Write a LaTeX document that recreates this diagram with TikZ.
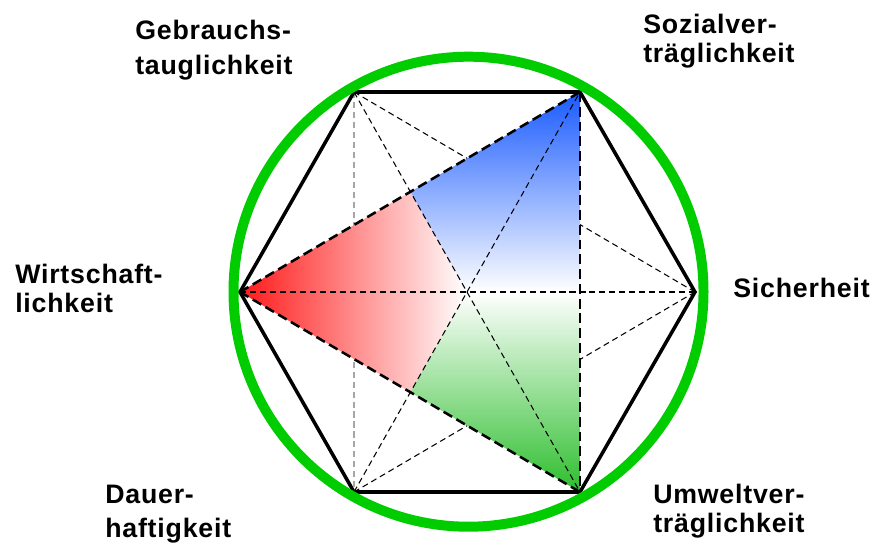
\documentclass[tikz,border=0pt]{standalone}
\usepackage{fontspec}
\setmainfont{Liberation Sans}
\newfontfamily\lblfont{Liberation Sans}[LetterSpace=3]
\usepackage{tikz}
\usetikzlibrary{calc}
\definecolor{ringgreen}{RGB}{0,204,0}
\definecolor{vecred}{RGB}{255,25,25}
\definecolor{vecblue}{RGB}{25,90,255}
\definecolor{vecgreen}{RGB}{45,190,45}

\begin{document}
\begin{tikzpicture}[
  x=0.025cm, y=-0.025cm,
  hexedge/.style={line width=2.5pt, line join=miter},
  diag/.style={line width=0.75pt, dash pattern=on 4.3pt off 2.8pt},
  tri/.style={line width=1.8pt, dash pattern=on 7pt off 3.5pt},
  lbl/.style={anchor=north west, inner sep=0pt, align=left,
    font=\lblfont\bfseries\fontsize{19}{#1}\selectfont},
  lbl/.default=20.6pt
]
  \useasboundingbox (0,0) rectangle (879,545);

  % Corners of the hexagon
  \coordinate (Gt) at (354,92);
  \coordinate (St) at (580,92);
  \coordinate (Si) at (695,292);
  \coordinate (Ut) at (580,492);
  \coordinate (Dt) at (354,492);
  \coordinate (Wt) at (240,292);

  % Inner points
  \coordinate (O) at (intersection of Wt--Si and Gt--Ut);
  \coordinate (P) at (intersection of Wt--St and Gt--Ut);
  \coordinate (Q) at (intersection of Wt--Ut and Dt--St);
  \coordinate (Om) at (O -| St);

  % Short diagonals (behind the fill)
  \draw[diag] (Gt) -- (Si);
  \draw[diag] (Dt) -- (Si);
  \draw[diag, gray!70] (Gt) -- (Dt);

  % Shaded triangle
  \shade[left color=vecred, right color=white] (Wt) -- (P) -- (O) -- (Q) -- cycle;
  \shade[top color=vecblue, bottom color=white] (P) -- (St) -- (Om) -- (O) -- cycle;
  \shade[top color=white, bottom color=vecgreen] (Q) -- (O) -- (Om) -- (Ut) -- cycle;

  % Long diagonals
  \draw[diag] (Wt) -- (Si);
  \draw[diag] (Gt) -- (Ut);
  \draw[diag] (Dt) -- (St);

  % Triangle edges
  \draw[tri] (Wt) -- (St);
  \draw[tri] (Wt) -- (Ut);
  \draw[tri] (St) -- (Ut);

  % Hexagon and ring
  \draw[hexedge] (Gt) -- (St) -- (Si) -- (Ut) -- (Dt) -- (Wt) -- cycle;
  \draw[ringgreen, line width=7.1pt] (468.5,291.7) circle[radius=235];

  % Labels
  \node[lbl=24.9pt] (gebr) at (135,19.6) {Gebrauchs-\\tauglichkeit};
  \node[lbl] (sozi) at (643,14.3) {Sozialver-\\träglichkeit};
  \node[lbl] (wirt) at (15,263.6) {Wirtschaft-\\lichkeit};
  \node[lbl] (sich) at (733,278.3) {Sicherheit};
  \node[lbl=24.2pt] (daue) at (105,484.6) {Dauer-\\haftigkeit};
  \node[lbl] (umwe) at (653,483.6) {Umweltver-\\träglichkeit};
\end{tikzpicture}
\end{document}
